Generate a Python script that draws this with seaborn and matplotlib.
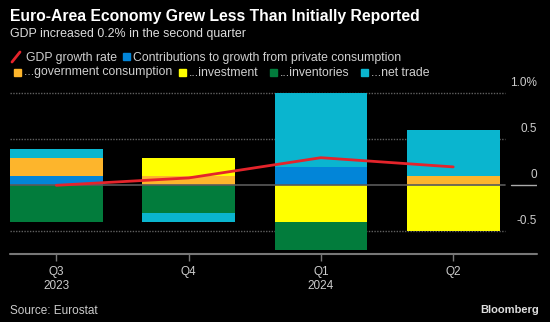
import matplotlib
matplotlib.use("Agg")
import matplotlib.pyplot as plt
import seaborn as sns
import numpy as np
import pandas as pd

quarters = ["Q3\n2023", "Q4", "Q1\n2024", "Q2"]
private = [0.1, 0.0, 0.2, 0.0]
government = [0.2, 0.1, 0.0, 0.1]
investment = [0.0, 0.2, -0.4, -0.5]
inventories = [-0.4, -0.3, -0.3, 0.0]
net_trade = [0.1, -0.1, 0.8, 0.5]
gdp = [0.0, 0.08, 0.3, 0.2]

series_names = ["Contributions to growth from private consumption", "...government consumption",
                "...investment", "...inventories", "...net trade"]
colors = ["#0285d8", "#fdb52c", "#ffff00", "#027c3c", "#0ab5cf"]
yticks = [-0.5, 0, 0.5, 1.0]
ytick_labels = ["-0.5", "0", "0.5", "1.0%"]

sns.set_style("dark")
plt.rcParams["font.family"] = ["Liberation Sans", "DejaVu Sans"]

W, H = 550, 322
fig = plt.figure(figsize=(W / 100, H / 100), dpi=100, facecolor="black")

def fx(px):
    return px / W

def fy(py):
    return 1 - py / H

# axes in pixel coordinates
ax_left, ax_right, ax_top, ax_bottom = 10, 537, 80, 253.7
ax = fig.add_axes([fx(ax_left), fy(ax_bottom), fx(ax_right - ax_left), (ax_bottom - ax_top) / H])
ax.set_facecolor("black")
for s in ax.spines.values():
    s.set_visible(False)
ax.grid(False)

x = np.arange(len(quarters))
spacing = 132.3
xmin = -(56.3 - ax_left) / spacing
xmax = (ax_right - 56.3) / spacing
ax.set_xlim(xmin, xmax)
per = 92.0
ax.set_ylim(-(ax_bottom - 185.3) / per, (185.3 - ax_top) / per)

# gridlines
grid_end = (505 - 56.3) / spacing
for yv in yticks:
    if yv == 0:
        ax.plot([xmin, grid_end], [0, 0], color="#5a5a5a", lw=1.2, zorder=3)
    else:
        ax.plot([xmin, grid_end], [yv, yv], color="#606060", lw=1.0, ls=(0, (1, 1)), zorder=1)
ax.plot([(511 - 56.3) / spacing, xmax], [0, 0], color="#aaaaaa", lw=1.0, zorder=3)

# stacked bars
data = [private, government, investment, inventories, net_trade]
pos_base = np.zeros(len(x))
neg_base = np.zeros(len(x))
for vals, c in zip(data, colors):
    vals = np.array(vals, dtype=float)
    pos = np.where(vals > 0, vals, 0)
    neg = np.where(vals < 0, vals, 0)
    ax.bar(x, pos, 0.7, bottom=pos_base, color=c, edgecolor="none", zorder=2)
    ax.bar(x, neg, 0.7, bottom=neg_base, color=c, edgecolor="none", zorder=2)
    pos_base += pos
    neg_base += neg

df = pd.DataFrame({"x": x, "gdp": gdp})
sns.lineplot(data=df, x="x", y="gdp", ax=ax, color="#e4242b", lw=2.0, zorder=4)
ax.set_xlabel("")
ax.set_ylabel("")

# x axis line and ticks
ax.axhline(ax.get_ylim()[0], color="#777777", lw=1.5, zorder=5, clip_on=False)
ax.set_xticks(x)
ax.set_xticklabels(quarters)
ax.tick_params(axis="x", colors="#777777", length=5, width=1, labelcolor="#cccccc",
               labelsize=8.5, pad=4, direction="out", bottom=True)
for lab in ax.get_xticklabels():
    lab.set_linespacing(1.25)
ax.set_yticks([])

# y labels, right aligned, above gridlines
for yv, lbl in zip(yticks, ytick_labels):
    ax.annotate(lbl, xy=(xmax, yv), xytext=(0, 3), textcoords="offset points",
                ha="right", va="bottom", color="#cccccc", fontsize=8.5, annotation_clip=False)

# title, subtitle
fig.text(fx(10), fy(21), "Euro-Area Economy Grew Less Than Initially Reported",
         color="white", fontsize=11.3, fontweight="bold", va="baseline", ha="left")
fig.text(fx(10), fy(36.5), "GDP increased 0.2% in the second quarter",
         color="#dddddd", fontsize=8.9, va="baseline", ha="left")

# legend
lc = "#d0d0d0"
fs = 8.8
fig.add_artist(plt.Line2D([fx(12), fx(20)], [fy(62), fy(52)], color="#e4242b", lw=2))
fig.text(fx(25.5), fy(60.5), "GDP growth rate", color=lc, fontsize=fs, va="baseline")
def sq(px, py, c):
    fig.add_artist(plt.Rectangle((fx(px), fy(py + 7)), 7 / W, 7 / H, color=c, transform=fig.transFigure))
sq(123, 53, colors[0])
fig.text(fx(133), fy(60.5), series_names[0], color=lc, fontsize=fs, va="baseline")
row2 = [(14, 23.5), (179, 189), (270, 280), (361, 371)]
for (sx, tx), c, name in zip(row2, colors[1:], series_names[1:]):
    sq(sx, 68.5, c)
    fig.text(fx(tx), fy(75.5), name, color=lc, fontsize=fs, va="baseline")

fig.text(fx(10), fy(314), "Source: Eurostat", color="#cccccc", fontsize=8.5, va="baseline")
fig.text(fx(539), fy(313), "Bloomberg", color="#dddddd", fontsize=8, fontweight="bold",
         va="baseline", ha="right")

fig.savefig("out.png", dpi=100, facecolor="black")
